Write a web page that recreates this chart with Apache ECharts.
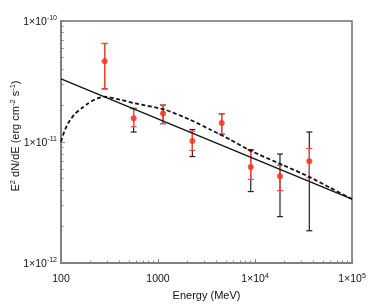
<!DOCTYPE html>
<html><head><meta charset="utf-8">
<script src="https://cdn.jsdelivr.net/npm/echarts@6/dist/echarts.min.js"></script>
<style>html,body{margin:0;padding:0;background:#fff}#c{width:374px;height:306px}</style>
</head><body><div id="c"></div>
<script>
// Data points (Energy in MeV, E^2 dN/dE in erg cm^-2 s^-1)
const energy   = [282, 561, 1127, 2260, 4540, 9040, 18100, 36300];
const flux     = [4.65e-11, 1.57e-11, 1.72e-11, 1.02e-11, 1.44e-11, 6.22e-12, 5.22e-12, 6.95e-12];
const statLow  = [2.75e-11, 1.34e-11, 1.42e-11, 8.53e-12, 1.16e-11, 4.91e-12, 3.97e-12, 5.06e-12];
const statHigh = [6.52e-11, 1.88e-11, 2.02e-11, 1.23e-11, 1.71e-11, 8.49e-12, 6.41e-12, 8.85e-12];
const totLow   = [2.75e-11, 1.21e-11, 1.42e-11, 7.59e-12, 1.16e-11, 3.90e-12, 2.42e-12, 1.85e-12];
const totHigh  = [6.52e-11, 1.90e-11, 2.02e-11, 1.27e-11, 1.71e-11, 8.65e-12, 7.96e-12, 1.21e-11];
// Power-law model (solid)
const powerLawE = [100, 100000];
const powerLawF = [3.33e-11, 3.38e-12];
// Curved model (dashed)
const curveE = [100, 108, 119, 138, 163, 190, 224, 284, 405, 579, 1180, 2138, 3436, 5521, 8873, 18110, 36300, 59300, 100000];
const curveF = [1.005e-11, 1.22e-11, 1.44e-11, 1.70e-11, 1.90e-11, 2.08e-11, 2.25e-11, 2.37e-11, 2.24e-11, 2.09e-11, 1.85e-11, 1.53e-11, 1.27e-11, 1.05e-11, 8.53e-12, 6.61e-12, 5.16e-12, 4.20e-12, 3.38e-12];
// Ticks
const xMajorTicks = [100, 1000, 10000, 100000];
const xTickLabels = ['{b|100}', '{b|1000}', '{b|1×10}{s|4}', '{b|1×10}{s|5}'];
const yMajorTicks = [1e-12, 1e-11, 1e-10];
const yTickLabels = ['{b|1×10}{s|-12}', '{b|1×10}{s|-11}', '{b|1×10}{s|-10}'];
const yTitle = '{a|E}{s|2}{a| dN/dE (erg cm}{s|-2}{a| s}{s|-1}{a|)}';
const xTitle = 'Energy (MeV)';

const FONT = 'Liberation Sans, Arial, Helvetica, sans-serif';
const AXC = '#808080';
const RED = '#ff2a14';
const rich = {
  b: {fontSize: 10.5, fontFamily: FONT, color: '#111', verticalAlign: 'bottom', lineHeight: 13},
  s: {fontSize: 7, fontFamily: FONT, color: '#111', verticalAlign: 'top', lineHeight: 13}
};
function fmt(ticks, labels) {
  return function (v) {
    for (let i = 0; i < ticks.length; i++) {
      if (Math.abs(Math.log10(v) - Math.log10(ticks[i])) < 0.01) return labels[i];
    }
    return '';
  };
}
function errBar(color, width) {
  return function (params, api) {
    const top = api.coord([api.value(0), api.value(2)]);
    const bot = api.coord([api.value(0), api.value(1)]);
    const cw = 3;
    const st = {stroke: color, lineWidth: width};
    return {type: 'group', children: [
      {type: 'line', shape: {x1: top[0], y1: top[1], x2: bot[0], y2: bot[1]}, style: st},
      {type: 'line', shape: {x1: top[0]-cw, y1: top[1], x2: top[0]+cw, y2: top[1]}, style: st},
      {type: 'line', shape: {x1: bot[0]-cw, y1: bot[1], x2: bot[0]+cw, y2: bot[1]}, style: st}
    ]};
  };
}

const chart = echarts.init(document.getElementById('c'), null, {renderer: 'canvas'});
chart.setOption({
  animation: false,
  grid: {left: 61, right: 22, top: 21, bottom: 38, show: true, borderColor: '#707070', borderWidth: 1.5, backgroundColor: 'transparent'},
  xAxis: {type: 'log', logBase: 10, min: 100, max: 100000, position: 'bottom',
     name: xTitle, nameLocation: 'middle', nameGap: 22,
     nameTextStyle: {fontSize: 11, fontFamily: FONT, color: '#111'},
     axisLine: {show: true, lineStyle: {color: AXC, width: 2}},
     axisTick: {show: true, inside: true, length: 4, lineStyle: {color: AXC}},
     minorTick: {show: true, splitNumber: 9, length: 2.5, lineStyle: {color: AXC}},
     axisLabel: {margin: 9, formatter: fmt(xMajorTicks, xTickLabels), rich: rich},
     splitLine: {show: false}},
  yAxis: {type: 'log', logBase: 10, min: 1e-12, max: 1e-10, position: 'left',
     axisLine: {show: true, lineStyle: {color: AXC, width: 2}},
     axisTick: {show: true, inside: true, length: 4, lineStyle: {color: AXC}},
     minorTick: {show: true, splitNumber: 9, length: 2.5, lineStyle: {color: AXC}},
     axisLabel: {margin: 4, formatter: fmt(yMajorTicks, yTickLabels), rich: rich},
     splitLine: {show: false}},
  graphic: [{
    type: 'text', x: 15, y: 136, rotation: Math.PI / 2,
    style: {
      text: yTitle,
      rich: {
        a: {fontSize: 11, fontFamily: FONT, fill: '#111', verticalAlign: 'bottom', lineHeight: 12},
        s: {fontSize: 7.5, fontFamily: FONT, fill: '#111', verticalAlign: 'top', lineHeight: 12}
      },
      align: 'center', verticalAlign: 'middle'
    }
  }],
  series: [
    {type: 'custom', renderItem: errBar('#222', 1.2), z: 3,
     data: energy.map((e, i) => [e, totLow[i], totHigh[i]])},
    {type: 'custom', renderItem: errBar('#ff4a3a', 1.2), z: 4,
     data: energy.map((e, i) => [e, statLow[i], statHigh[i]])},
    {type: 'line', data: powerLawE.map((e, i) => [e, powerLawF[i]]), showSymbol: false, z: 5,
     lineStyle: {color: '#111', width: 1.3}},
    {type: 'line', data: curveE.map((e, i) => [e, curveF[i]]), showSymbol: false, smooth: 0.2, z: 5,
     lineStyle: {color: '#111', width: 1.8, type: [4, 2.5]}},
    {type: 'scatter', data: energy.map((e, i) => [e, flux[i]]), symbolSize: 6, z: 6,
     itemStyle: {color: RED}}
  ]
});
</script></body></html>
